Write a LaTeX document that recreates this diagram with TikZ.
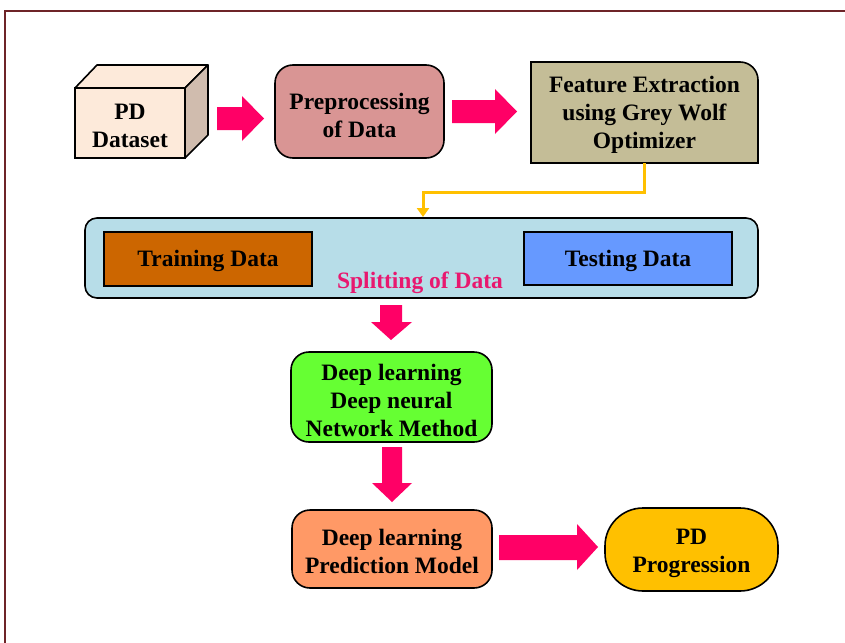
\documentclass[tikz,border=0pt]{standalone}
\usepackage{fontspec}
\setmainfont{Liberation Serif}
\usetikzlibrary{arrows.meta}
\definecolor{frame}{HTML}{6E2428}
\definecolor{pinkarrow}{HTML}{FF0066}
\definecolor{cubefront}{HTML}{FDEADA}
\definecolor{cubeside}{HTML}{D0BCAE}
\definecolor{prepfill}{HTML}{D99594}
\definecolor{featfill}{HTML}{C4BD97}
\definecolor{splitfill}{HTML}{B7DDE8}
\definecolor{trainfill}{HTML}{CC6600}
\definecolor{testfill}{HTML}{6699FF}
\definecolor{dnnfill}{HTML}{66FF33}
\definecolor{predfill}{HTML}{FF9966}
\definecolor{progfill}{HTML}{FFC000}
\definecolor{splittext}{HTML}{E8186F}
\tikzset{
  lbl/.style={font=\fontsize{23.5}{28}\selectfont\bfseries, align=center, text=black},
  boxline/.style={draw=black, line width=1.6pt},
  blockarrow/.style={fill=pinkarrow, draw=none},
}
\begin{document}
\begin{tikzpicture}[x=1pt,y=-1pt]
\useasboundingbox (0,0) rectangle (845,642);
\fill[white] (0,0) rectangle (845,642);
% frame
\draw[frame, line width=2pt] (5,645) -- (5,11) -- (848,11);

% cube
\filldraw[boxline, fill=cubefront, line join=round] (75,88) -- (97,65) -- (208,65) -- (185,88) -- cycle;
\filldraw[boxline, fill=cubeside, line join=round] (185,88) -- (208,65) -- (208,135) -- (185,158) -- cycle;
\filldraw[boxline, fill=cubefront] (75,88) rectangle (185,158);
\node[lbl] (ds) at (130,126) {PD\\Dataset};

% arrow 1
\fill[blockarrow] (217,107) -- (242,107) -- (242,96) -- (264,118.5) -- (242,141) -- (242,130) -- (217,130) -- cycle;

% preprocessing
\filldraw[boxline, fill=prepfill, rounded corners=18pt] (275,65) rectangle (444,158);
\node[lbl] (prep) at (359.5,115) {Preprocessing\\of Data};

% arrow 2
\fill[blockarrow] (452,100) -- (495,100) -- (495,89) -- (517,111.5) -- (495,134) -- (495,123) -- (452,123) -- cycle;

% feature extraction
\filldraw[boxline, fill=featfill] (531,62) -- (740,62) arc[start angle=-90, end angle=0, radius=18] -- (758,163) -- (531,163) -- cycle;
\node[lbl] (feat) at (644.5,115) {Feature Extraction\\using Grey Wolf\\Optimizer};
\coordinate (featb) at (644,163);

% splitting container
\filldraw[boxline, fill=splitfill, rounded corners=12pt] (85,218) rectangle (758,298);
\coordinate (splitt) at (423,217);
\filldraw[boxline, fill=trainfill] (104,232) rectangle (312,286);
\node[lbl] (train) at (208,261) {Training Data};
\filldraw[boxline, fill=testfill] (524,232) rectangle (732,285);
\node[lbl] (test) at (628,261) {Testing Data};
\node[lbl, text=splittext] (split) at (420,283) {Splitting of Data};

% yellow connector
\draw[progfill, line width=3pt, -{Triangle[length=9pt,width=12pt]}] (featb) -- (644,192) -- (423,192) -- (splitt);

% arrow 3
\fill[blockarrow] (380,305) -- (402,305) -- (402,322) -- (412,322) -- (391,340) -- (371,322) -- (380,322) -- cycle;

% dnn
\filldraw[boxline, fill=dnnfill, rounded corners=18pt] (291,352) rectangle (492,442);
\node[lbl] (dnn) at (391.5,400) {Deep learning\\Deep neural\\Network Method};

% arrow 4
\fill[blockarrow] (382,447) -- (402,447) -- (402,483) -- (412,483) -- (392,502) -- (372,483) -- (382,483) -- cycle;

% prediction
\filldraw[boxline, fill=predfill, rounded corners=18pt] (292,510) rectangle (492,588);
\node[lbl] (pred) at (392,551) {Deep learning\\Prediction Model};

% arrow 5
\fill[blockarrow] (499,535) -- (577,535) -- (577,524) -- (598,547) -- (577,570) -- (577,560) -- (499,560) -- cycle;

% progression
\filldraw[boxline, fill=progfill, rounded corners=38pt] (605,508) rectangle (778,591);
\node[lbl] (prog) at (691.5,553) {PD\\Progression};
\end{tikzpicture}
\end{document}
